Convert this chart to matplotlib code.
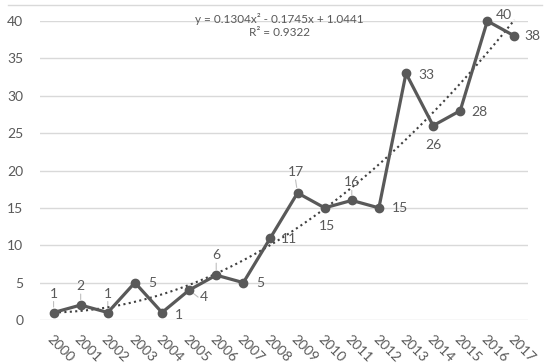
import matplotlib
matplotlib.use("Agg")
import matplotlib.pyplot as plt
import matplotlib.transforms as mtransforms
from matplotlib.lines import Line2D
import numpy as np

plt.rcParams['font.family'] = ['Lato', 'DejaVu Sans']

# data
years = [2000, 2001, 2002, 2003, 2004, 2005, 2006, 2007, 2008,
         2009, 2010, 2011, 2012, 2013, 2014, 2015, 2016, 2017]
counts = [1, 2, 1, 5, 1, 4, 6, 5, 11, 17, 15, 16, 15, 33, 26, 28, 40, 38]
# Excel polynomial trendline (x = 1..n)
trend_coef = [0.1304, -0.1745, 1.0441]
trend_r2 = 0.9322

# label offsets in pixels (dx, dy) and whether a leader line is drawn
label_offsets = [(0, 19), (0, 19), (0, 19), (17, 0), (17, -2), (15, -7),
                 (0, 20), (17, 0), (19, -1), (-2, 21), (2, -18), (0, 18),
                 (21, 0), (20, -2), (0, -19), (19, -1), (17, 6), (18, 0)]
leaders = [True, True, True, False, False, True, True, False, False,
           True, False, True, False, False, False, False, False, False]

dark = '#595959'
grid = '#d9d9d9'

fig = plt.figure(figsize=(5.5, 3.63), dpi=100)
ax = fig.add_axes([40 / 550, 1 - 320 / 363, 488 / 550, 299 / 363])

x = np.arange(len(years))
ax.set_xlim(-0.5, len(years) - 0.5)
ax.set_ylim(0, 40)

# trendline
xs = np.linspace(0, len(years) - 1, 200)
ax.plot(xs, np.polyval(trend_coef, xs + 1), color='#404040',
        linestyle=(0, (1, 1.6)), linewidth=1.5, zorder=2, clip_on=False)

ax.plot(x, counts, color=dark, linewidth=2.3, marker='o', markersize=6,
        zorder=3, clip_on=False)

for xi, v, (dx, dy), lead in zip(x, counts, label_offsets, leaders):
    ax.annotate(str(v), (xi, v), xytext=(dx, dy), textcoords='offset pixels',
                ha='center', va='center', fontsize=10, color=dark, zorder=4)
    if lead:
        if abs(dy) >= abs(dx):
            end = (dx, dy - np.sign(dy) * 8)
        else:
            end = (dx - np.sign(dx) * 6, dy)
        ax.annotate('', (xi, v), xytext=end, textcoords='offset pixels',
                    arrowprops=dict(arrowstyle='-', color='#bfbfbf', lw=0.8,
                                    shrinkA=0, shrinkB=4),
                    annotation_clip=False, zorder=1)

ax.set_xticks(x)
ax.set_xticklabels([str(y) for y in years], rotation=-45, ha='left',
                   rotation_mode='anchor', fontsize=10, color=dark)
shift = mtransforms.ScaledTranslation(3 / 100, -3 / 100, fig.dpi_scale_trans)
for lbl in ax.get_xticklabels():
    lbl.set_transform(lbl.get_transform() + shift)
ax.set_yticks(range(0, 41, 5))
ax.tick_params(axis='y', labelsize=10, labelcolor=dark, length=0, pad=12)
ax.tick_params(axis='x', length=0, pad=9)
ax.grid(axis='y', color=grid, linewidth=1)
ax.set_axisbelow(True)
for s in ax.spines.values():
    s.set_visible(False)

ax.text(0.49, 0.985, 'y = 0.1304x² - 0.1745x + 1.0441\nR² = %.4f' % trend_r2,
        transform=ax.transAxes, ha='center', va='center', fontsize=8.5,
        color=dark, linespacing=1.15)

fig.add_artist(Line2D([8 / 550, 542 / 550], [1 - 5 / 363, 1 - 5 / 363],
                      color=grid, linewidth=1))

fig.savefig('out.png', dpi=100)
